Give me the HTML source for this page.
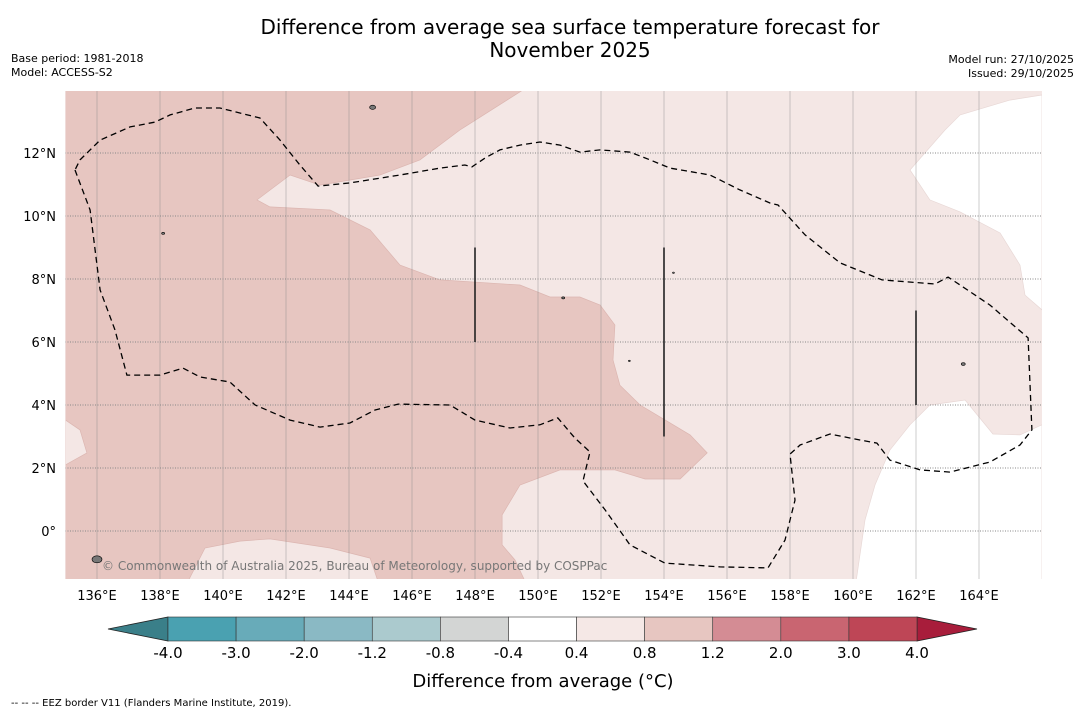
<!DOCTYPE html>
<html><head><meta charset="utf-8"><style>
body{margin:0;background:#fff;width:1085px;height:713px;overflow:hidden;font-family:"DejaVu Sans","Liberation Sans",sans-serif}
svg{position:absolute;left:0;top:0}
</style></head><body>
<svg id="c" width="1085" height="713" xmlns="http://www.w3.org/2000/svg">
<defs><clipPath id="mc"><rect x="65.5" y="91" width="976.5" height="488"/></clipPath></defs>
<text x="570" y="34" text-anchor="middle" font-size="20">Difference from average sea surface temperature forecast for</text>
<text x="570" y="57" text-anchor="middle" font-size="20">November 2025</text>
<text x="11" y="62" font-size="11">Base period: 1981-2018</text>
<text x="11" y="76" font-size="11">Model: ACCESS-S2</text>
<text x="1074" y="63" font-size="11" text-anchor="end">Model run: 27/10/2025</text>
<text x="1074" y="77" font-size="11" text-anchor="end">Issued: 29/10/2025</text>
<g id="map" clip-path="url(#mc)"></g>
<g id="axes"></g>
<g id="cbar"></g>
<text x="543" y="687" text-anchor="middle" font-size="18">Difference from average (°C)</text>
<text x="11" y="706" font-size="10">--  --  -- EEZ border V11 (Flanders Marine Institute, 2019).</text>
</svg>
<script>
const NS="http://www.w3.org/2000/svg";
const lonTicks=[136,138,140,142,144,146,148,150,152,154,156,158,160,162,164];
const latTicks=[0,2,4,6,8,10,12];
const darkRegion=[[135,14],[149.52,14],[147.52,12.73],[146.25,11.78],[144.98,11.3],[143.08,10.98],[142.13,11.3],[141.08,10.51],[141.49,10.29],[143.4,10.19],[144.67,9.56],[145.62,8.44],[146.89,7.97],[149.43,7.81],[150.38,7.43],[151.33,7.43],[151.97,7.17],[152.44,6.54],[152.38,5.43],[152.6,4.63],[153.24,4.0],[154.83,3.05],[155.37,2.48],[154.51,1.65],[153.4,1.65],[152.44,1.94],[150.7,1.94],[149.43,1.46],[148.86,0.51],[148.86,-0.44],[149.27,-0.92],[149.59,-1.6],[144.92,-1.6],[144.67,-0.86],[143.4,-0.54],[141.49,-0.25],[140.54,-0.32],[139.43,-0.54],[138.89,-1.6],[135,-1.6]];
const lightNotch=[[135,3.52],[135.46,3.21],[135.68,2.48],[135,2.1]];
const whiteNE=[[166,13.84],[164.98,13.68],[163.4,13.21],[162.92,12.73],[161.81,11.46],[162.44,10.51],[163.4,10.13],[164.67,9.46],[165.3,8.44],[165.46,7.49],[166,7.02]];
const whiteSE=[[166,3.37],[165.3,3.05],[164.44,3.08],[163.56,4.16],[162.44,4.0],[161.81,3.37],[161.17,2.57],[160.7,1.46],[160.38,0.35],[160.1,-1.6],[166,-1.6]];
const eez=[[135.3,11.46],[135.78,10.19],[135.94,8.92],[136.1,7.65],[136.57,6.38],[136.95,4.95],[138,4.95],[138.73,5.17],[139.27,4.89],[140.22,4.73],[141.02,4.0],[142.13,3.52],[143.08,3.3],[144.03,3.43],[144.83,3.84],[145.56,4.03],[147.21,4.0],[148,3.52],[149.11,3.27],[150.06,3.37],[150.63,3.59],[151.17,2.95],[151.65,2.51],[151.43,1.59],[152.13,0.67],[152.92,-0.44],[154.03,-1.02],[155.78,-1.14],[157.3,-1.17],[157.84,-0.29],[158.16,0.98],[158,2.44],[158.32,2.73],[159.27,3.08],[160.22,2.89],[160.76,2.79],[161.17,2.25],[162.13,1.94],[163.08,1.87],[164.35,2.19],[165.3,2.73],[165.68,3.21],[165.56,6.13],[164.35,7.17],[163.4,7.81],[163.02,8.06],[162.6,7.84],[160.92,7.97],[159.59,8.51],[158.48,9.4],[157.62,10.35],[157.37,10.41],[156.41,10.83],[155.46,11.3],[154.19,11.52],[153.56,11.78],[152.92,12.03],[151.97,12.1],[151.33,12.03],[150.7,12.25],[150.06,12.35],[149.43,12.25],[148.79,12.1],[148.32,11.84],[147.9,11.56],[147.68,11.62],[146.89,11.52],[145.62,11.3],[144.03,11.05],[143.02,10.95],[142.44,11.62],[141.81,12.41],[141.17,13.11],[139.9,13.43],[139.11,13.43],[138.32,13.21],[137.84,12.98],[137.05,12.83],[136.1,12.41],[135.46,11.78],[135.3,11.46]];
const vLines=[[148,9,6],[154,9,3],[162,7,4]];
const islands=[[144.75,13.45,3],[138.1,9.45,1.5],[163.5,5.3,2],[136.0,-0.9,5],[150.8,7.4,1.5],[152.9,5.4,1],[154.3,8.2,1]];
const cbEdges=["-4.0","-3.0","-2.0","-1.2","-0.8","-0.4","0.4","0.8","1.2","2.0","3.0","4.0"];
const cbColors=["#4aa1b1","#68abb9","#8ab9c4","#abcace","#d3d5d4","#ffffff","#f5e8e6","#e7c6c1","#d48c94","#c96571","#be4656"];
const X=lon=>65.5+(lon-135)*31.5, Y=lat=>531-lat*31.5;
function el(p,tag,at){const e=document.createElementNS(NS,tag);for(const k in at)e.setAttribute(k,at[k]);p.appendChild(e);return e;}
const pts=a=>a.map(p=>X(p[0]).toFixed(1)+","+Y(p[1]).toFixed(1)).join(" ");
const map=document.getElementById("map");
let r=el(map,"rect",{x:65.5,y:91,width:977,height:488,fill:"#f4e7e5"});


let d=el(map,"polygon",{points:pts(darkRegion),fill:"#e7c6c1",stroke:"#dcb6b1","stroke-width":0.7});


let n=el(map,"polygon",{points:pts(lightNotch),fill:"#f4e7e5",stroke:"#dcb6b1","stroke-width":0.7});


[whiteNE,whiteSE].forEach((w,i)=>{const p=el(map,"polygon",{points:pts(w),fill:"#ffffff",stroke:"#e8d8d6","stroke-width":0.7});

});
lonTicks.forEach(l=>{const g=el(map,"line",{x1:X(l),x2:X(l),y1:91,y2:579,stroke:"#888","stroke-width":0.6,"stroke-opacity":0.7});

});
latTicks.forEach(l=>{const g=el(map,"line",{x1:65,x2:1042,y1:Y(l),y2:Y(l),stroke:"#888","stroke-width":1,"stroke-dasharray":"1,1.5"});

});
let e=el(map,"polyline",{points:pts(eez),fill:"none",stroke:"#000","stroke-width":1.3,"stroke-dasharray":"6,4"});


vLines.forEach(v=>{const l=el(map,"line",{x1:X(v[0]),x2:X(v[0]),y1:Y(v[1]),y2:Y(v[2]),stroke:"#222","stroke-width":1.6});

});
islands.forEach(s=>{const c=el(map,"ellipse",{cx:X(s[0]),cy:Y(s[1]),rx:s[2],ry:s[2]*0.7,fill:"#777",stroke:"#000","stroke-width":0.6});

});
let cp=el(map,"text",{x:102,y:570,"font-size":12,fill:"#777"});cp.textContent="© Commonwealth of Australia 2025, Bureau of Meteorology, supported by COSPPac";


const ax=document.getElementById("axes");
lonTicks.forEach(l=>{const t=el(ax,"text",{x:X(l),y:600,"text-anchor":"middle","font-size":13});t.textContent=l+"°E";

});
latTicks.forEach(l=>{const t=el(ax,"text",{x:56,y:Y(l)+5,"text-anchor":"end","font-size":13});t.textContent=l===0?"0°":l+"°N";

});
const cb=document.getElementById("cbar");
const cx0=168,cw=(917-168)/cbColors.length,cy=617,ch=24;
let t1=el(cb,"polygon",{points:`108,${cy+ch/2} ${cx0},${cy} ${cx0},${cy+ch}`,fill:"#3a7f89",stroke:"#222","stroke-width":0.8});


let t2=el(cb,"polygon",{points:`977,${cy+ch/2} 917,${cy} 917,${cy+ch}`,fill:"#a81d3b",stroke:"#222","stroke-width":0.8});


cbColors.forEach((c,i)=>{const b=el(cb,"rect",{x:cx0+i*cw,y:cy,width:cw,height:ch,fill:c,stroke:"#333","stroke-width":0.6});

});
cbEdges.forEach((s,i)=>{const t=el(cb,"text",{x:cx0+i*cw,y:658,"text-anchor":"middle","font-size":15});t.textContent=s;

});
</script>
</body></html>
